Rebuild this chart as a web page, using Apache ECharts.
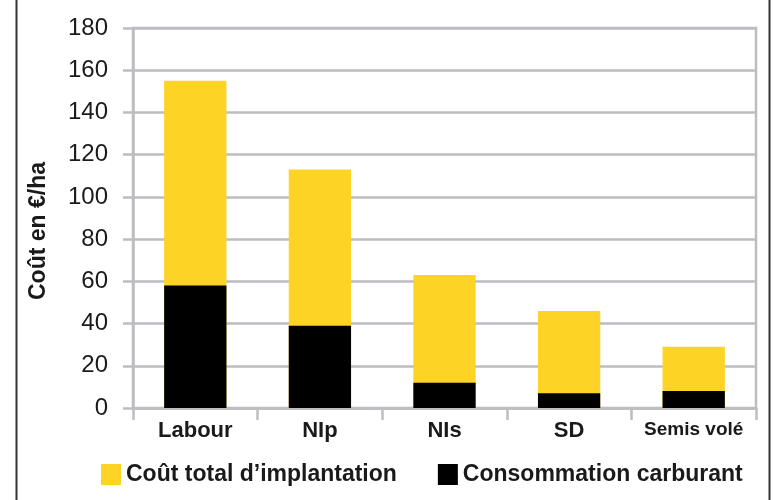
<!DOCTYPE html>
<html lang="fr">
<head>
<meta charset="UTF-8" />
<title>Coût d'implantation</title>
<style>
	html, body { margin: 0; padding: 0; background: #fff; }
	#main { width: 773px; height: 500px; }
</style>
</head>
<body>
	<div id="main"></div>
	<script type="text/javascript" src="https://cdn.jsdelivr.net/npm/echarts@6/dist/echarts.min.js"></script>
	<script type="text/javascript">
		// données
		var categories = ['Labour', 'NIp', 'NIs', 'SD', 'Semis volé'];
		var coutTotal = [155, 113, 63, 46, 29];
		var carburant = [58, 39, 12, 7, 8];
		var yTicks = { min: 0, max: 180, interval: 20 };

		var grey = '#bdbdc2';
		var myChart = echarts.init(document.getElementById('main'));

		var option = {
			animation: false,
			textStyle: { fontFamily: 'Liberation Sans, Arial, sans-serif' },
			grid: {
				left: 133, right: 17, top: 28, bottom: 92,
				show: true, borderColor: grey, borderWidth: 2.5
			},
			legend: {
				left: 101, top: 463,
				padding: 0,
				itemWidth: 20, itemHeight: 21, itemGap: 41,
				textStyle: { fontSize: 23, fontWeight: 'bold', color: '#1a1a1a' },
				data: [
					{ name: 'Coût total d’implantation', icon: 'rect' },
					{ name: 'Consommation carburant', icon: 'rect' }
				]
			},
			xAxis: {
				type: 'category',
				data: categories,
				axisLine: { lineStyle: { color: grey, width: 2.5 } },
				axisTick: { show: true, interval: 0, length: 12, lineStyle: { color: grey, width: 2.5 } },
				axisLabel: {
					interval: 0,
					margin: 12,
					color: '#1a1a1a',
					fontSize: 22,
					fontWeight: 'bold',
					formatter: function (v) {
						return v === 'Semis volé' ? '{s|' + v + '}' : v;
					},
					rich: { s: { fontSize: 19, fontWeight: 'bold', color: '#1a1a1a' } }
				}
			},
			yAxis: {
				type: 'value',
				min: yTicks.min, max: yTicks.max, interval: yTicks.interval,
				name: 'Coût en €/ha',
				nameLocation: 'middle',
				nameGap: 83,
				nameTextStyle: { fontSize: 23, fontWeight: 'bold', color: '#1a1a1a', padding: [0, 26, 0, 0] },
				axisLine: { show: true, lineStyle: { color: grey, width: 2.5 } },
				axisTick: { show: true, length: 10, lineStyle: { color: grey, width: 2.5 } },
				axisLabel: { margin: 25, fontSize: 24, color: '#1a1a1a' },
				splitLine: { lineStyle: { color: grey, width: 2.5 } }
			},
			series: [
				{
					name: 'Coût total d’implantation',
					type: 'bar',
					data: coutTotal,
					barWidth: '50%',
					barGap: '-100%',
					itemStyle: { color: '#fdd326' }
				},
				{
					name: 'Consommation carburant',
					type: 'bar',
					data: carburant,
					barWidth: '50%',
					itemStyle: { color: '#000000' }
				}
			],
			graphic: [
				{ type: 'line', shape: { x1: 16.5, y1: 0, x2: 16.5, y2: 500 }, style: { stroke: '#333', lineWidth: 2 } },
				{ type: 'line', shape: { x1: 769.5, y1: 0, x2: 769.5, y2: 500 }, style: { stroke: '#333', lineWidth: 2 } }
			]
		};

		myChart.setOption(option);
	</script>
</body>
</html>
